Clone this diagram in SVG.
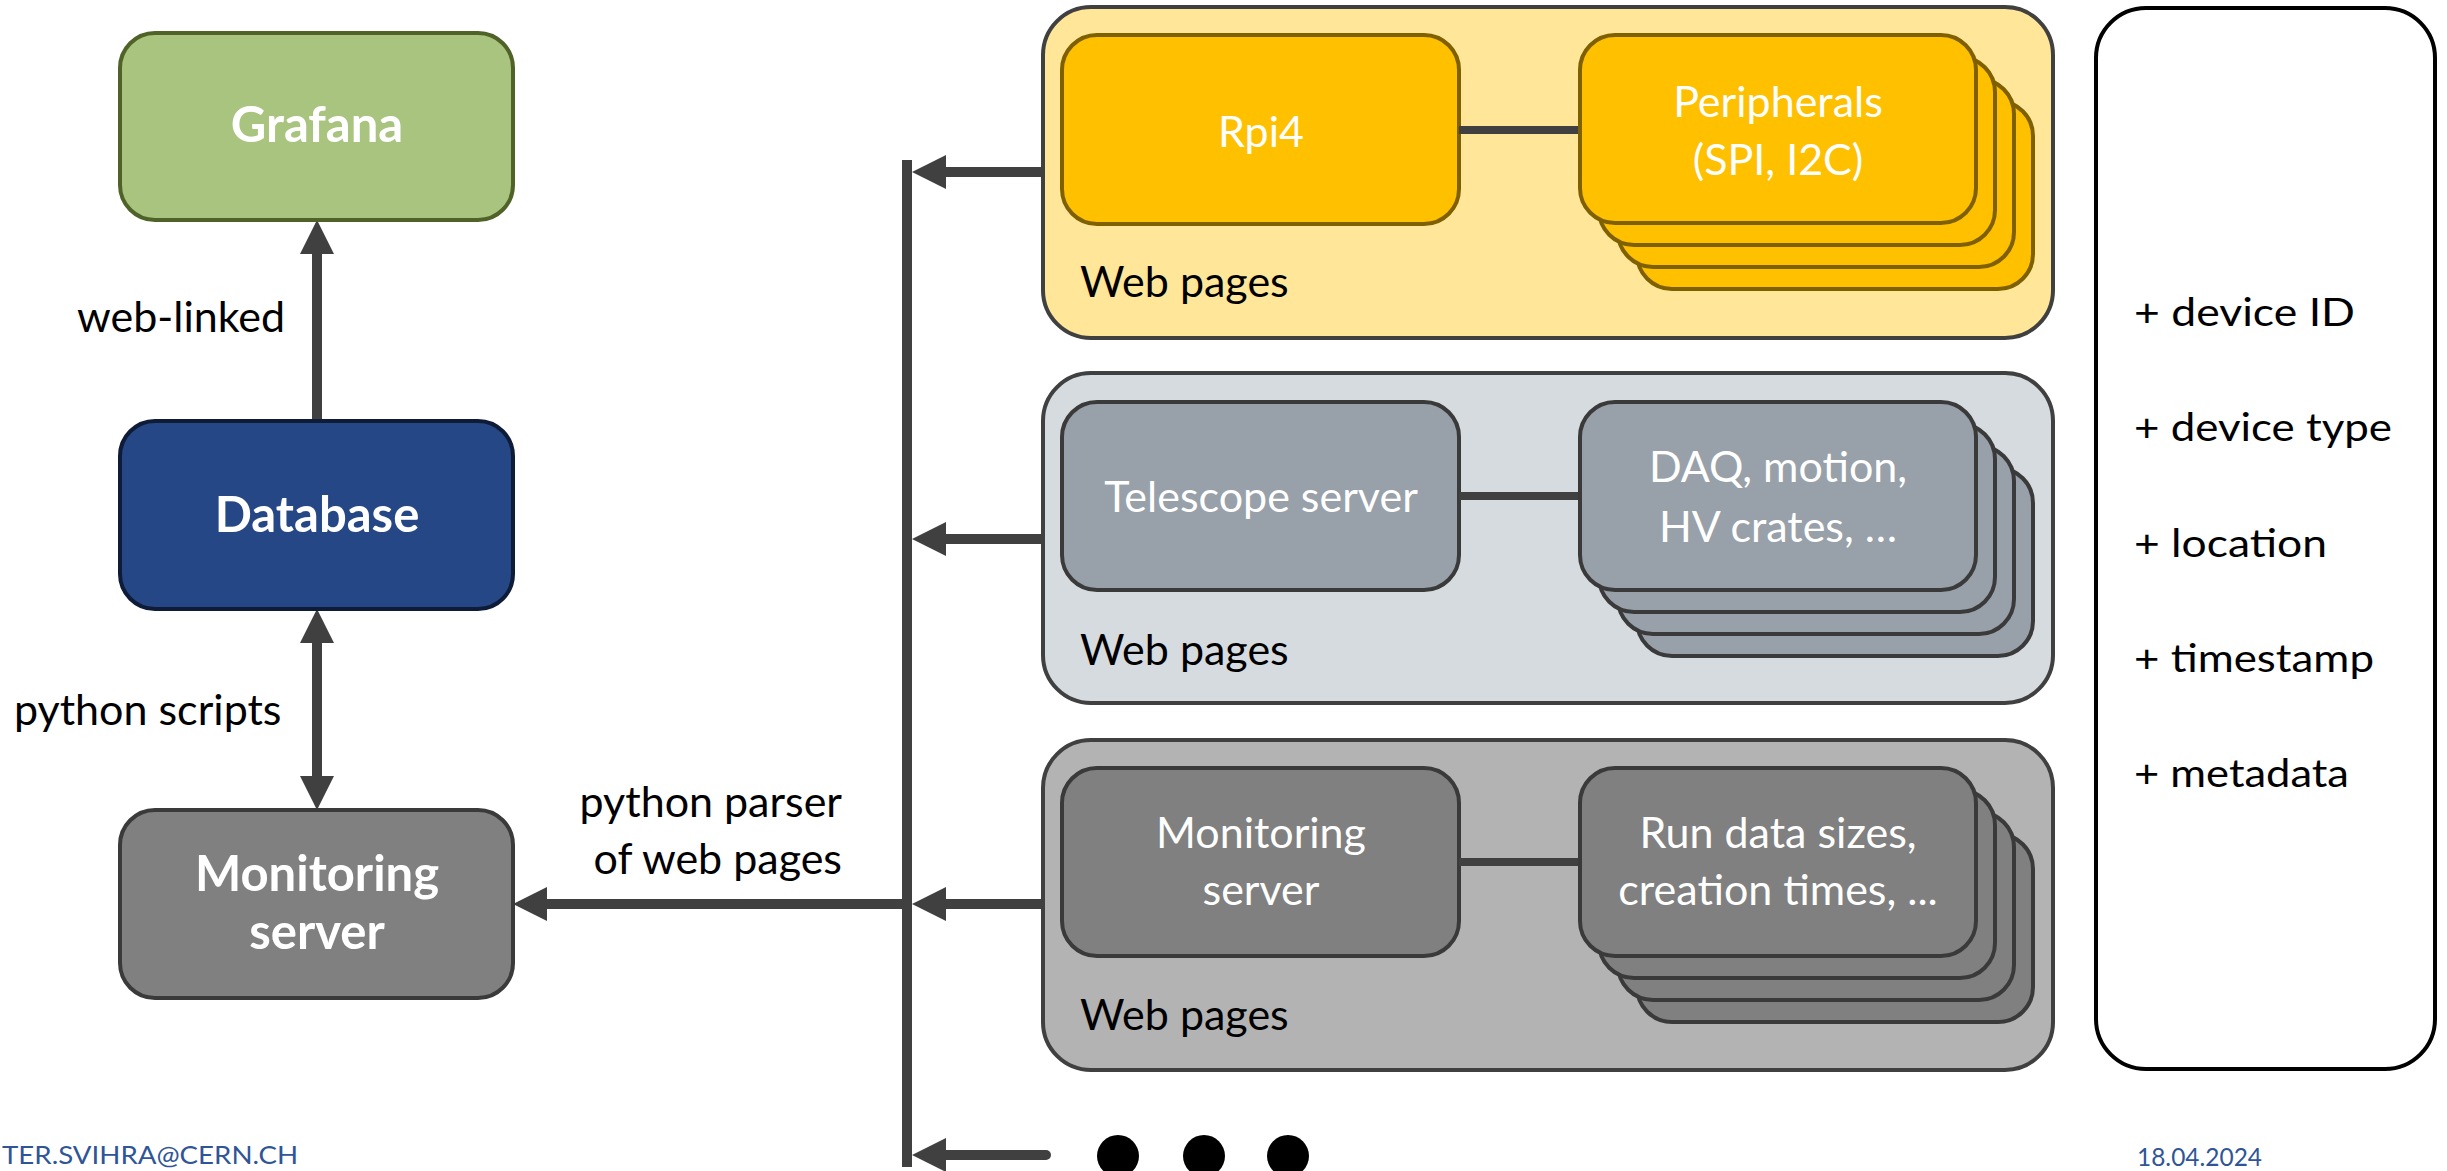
<svg xmlns="http://www.w3.org/2000/svg" width="2447" height="1171" viewBox="0 0 2447 1171">
<defs>
<style>
text{font-family:Lato,"Open Sans","Noto Sans",sans-serif}
.lbl{font-size:43px;fill:#000}
.bold{font-size:49px;font-weight:bold;fill:#fff;text-anchor:middle}
.in{font-size:43px;fill:#fff;text-anchor:middle}
.wp{font-size:43px;fill:#000}
.conn{stroke:#404040;stroke-width:10;fill:none}
.link{stroke:#404040;stroke-width:8;fill:none}
.foot{font-size:25px;fill:#2f5597}
.attr{font-size:38px;fill:#000}
.p1{fill:#ffe699;stroke:#404040;stroke-width:4}
.y{fill:#ffc000;stroke:#7f6000;stroke-width:4}
.p2{fill:#d6dbdf;stroke:#404040;stroke-width:4}
.g2{fill:#98a0a9;stroke:#3a3a3a;stroke-width:4}
.p3{fill:#b3b3b3;stroke:#404040;stroke-width:4}
.g3{fill:#808080;stroke:#3a3a3a;stroke-width:4}
</style>
<marker id="ah" viewBox="0 0 34 34" refX="0" refY="17" markerWidth="34" markerHeight="34" markerUnits="userSpaceOnUse" orient="auto-start-reverse">
<path d="M0,0 L34,17 L0,34 Z" fill="#404040"/>
</marker>
</defs>
<rect width="2447" height="1171" fill="#fff"/>

<g id="connectors">
<path class="conn" d="M317,421 V254" marker-end="url(#ah)" stroke-linecap="round"/>
<path class="conn" d="M317,643 V776" marker-start="url(#ah)" marker-end="url(#ah)"/>
<path class="conn" d="M907,904 H547" marker-end="url(#ah)"/>
<path class="conn" d="M907,160 V1167"/>
<path class="conn" d="M1046,172 H946" marker-end="url(#ah)" stroke-linecap="round"/>
<path class="conn" d="M1046,539 H946" marker-end="url(#ah)" stroke-linecap="round"/>
<path class="conn" d="M1046,904 H946" marker-end="url(#ah)" stroke-linecap="round"/>
<path class="conn" d="M1046,1155 H946" marker-end="url(#ah)" stroke-linecap="round"/>
<text class="lbl" x="77" y="332">web-linked</text>
<text class="lbl" x="14" y="725">python scripts</text>
<text class="lbl" x="842" y="817" text-anchor="end">python parser</text>
<text class="lbl" x="842" y="874" text-anchor="end">of web pages</text>
</g>

<g id="grafana">
<rect x="120" y="33" width="393" height="187" rx="35" fill="#a9c47f" stroke="#4f6228" stroke-width="4"/>
<text class="bold" x="317" y="142">Grafana</text>
</g>
<g id="database">
<rect x="120" y="421" width="393" height="188" rx="35" fill="#254785" stroke="#0e1c38" stroke-width="4"/>
<text class="bold" x="317" y="532">Database</text>
</g>
<g id="monitoring-server">
<rect x="120" y="810" width="393" height="188" rx="35" fill="#808080" stroke="#3a3a3a" stroke-width="4"/>
<text class="bold" x="317" y="891">Monitoring</text>
<text class="bold" x="317" y="949">server</text>
</g>

<g id="panel-rpi">
<rect class="p1" x="1043" y="7" width="1010" height="331" rx="48"/>
<rect class="y" x="1062" y="35" width="397" height="189" rx="35"/>
<text class="in" x="1261" y="147">Rpi4</text>
<line class="link" x1="1459" y1="130" x2="1580" y2="130"/>
<rect class="y" x="1637" y="101" width="396" height="188" rx="35"/>
<rect class="y" x="1618" y="79" width="396" height="188" rx="35"/>
<rect class="y" x="1599" y="57" width="396" height="188" rx="35"/>
<rect class="y" x="1580" y="35" width="396" height="188" rx="35"/>
<text class="in" x="1778" y="117">Peripherals</text>
<text class="in" x="1778" y="175">(SPI, I2C)</text>
<text class="wp" x="1080" y="297">Web pages</text>
</g>

<g id="panel-telescope">
<rect class="p2" x="1043" y="373" width="1010" height="330" rx="48"/>
<rect class="g2" x="1062" y="402" width="397" height="188" rx="35"/>
<text class="in" x="1261" y="512">Telescope server</text>
<line class="link" x1="1459" y1="496" x2="1580" y2="496"/>
<rect class="g2" x="1637" y="468" width="396" height="188" rx="35"/>
<rect class="g2" x="1618" y="446" width="396" height="188" rx="35"/>
<rect class="g2" x="1599" y="424" width="396" height="188" rx="35"/>
<rect class="g2" x="1580" y="402" width="396" height="188" rx="35"/>
<text class="in" x="1778" y="482">DAQ, motion,</text>
<text class="in" x="1778" y="542">HV crates, …</text>
<text class="wp" x="1080" y="665">Web pages</text>
</g>

<g id="panel-monitoring">
<rect class="p3" x="1043" y="740" width="1010" height="330" rx="48"/>
<rect class="g3" x="1062" y="768" width="397" height="188" rx="35"/>
<text class="in" x="1261" y="848">Monitoring</text>
<text class="in" x="1261" y="905">server</text>
<line class="link" x1="1459" y1="862" x2="1580" y2="862"/>
<rect class="g3" x="1637" y="834" width="396" height="188" rx="35"/>
<rect class="g3" x="1618" y="812" width="396" height="188" rx="35"/>
<rect class="g3" x="1599" y="790" width="396" height="188" rx="35"/>
<rect class="g3" x="1580" y="768" width="396" height="188" rx="35"/>
<text class="in" x="1778" y="848">Run data sizes,</text>
<text class="in" x="1778" y="905">creation times, ...</text>
<text class="wp" x="1080" y="1030">Web pages</text>
</g>

<g id="more">
<circle cx="1118" cy="1156" r="21" fill="#000"/>
<circle cx="1204" cy="1156" r="21" fill="#000"/>
<circle cx="1288" cy="1156" r="21" fill="#000"/>
</g>

<g id="attributes">
<rect x="2096" y="8" width="339" height="1061" rx="50" fill="#fff" stroke="#000" stroke-width="4"/>
<text class="attr" x="2134" y="326" textLength="221" lengthAdjust="spacingAndGlyphs">+ device ID</text>
<text class="attr" x="2134" y="441" textLength="258" lengthAdjust="spacingAndGlyphs">+ device type</text>
<text class="attr" x="2134" y="557" textLength="193" lengthAdjust="spacingAndGlyphs">+ location</text>
<text class="attr" x="2134" y="672" textLength="240" lengthAdjust="spacingAndGlyphs">+ timestamp</text>
<text class="attr" x="2134" y="787" textLength="215" lengthAdjust="spacingAndGlyphs">+ metadata</text>
</g>

<g id="footer">
<text class="foot" x="2" y="1164" textLength="296" lengthAdjust="spacingAndGlyphs">TER.SVIHRA@CERN.CH</text>
<text class="foot" x="2137" y="1166" textLength="125" lengthAdjust="spacingAndGlyphs">18.04.2024</text>
</g>
</svg>
